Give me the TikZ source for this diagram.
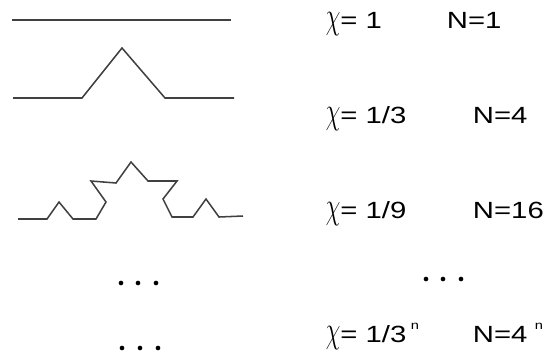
\documentclass[tikz,border=0pt]{standalone}
\usepackage{fontspec}
\setmainfont{Liberation Sans}
\newcommand{\supn}[1]{\hspace{#1}\raisebox{11pt}{\fontsize{10}{10}\selectfont n}}
\newcommand{\chiv}{\scalebox{0.78}[1.54]{$\chi$}}
\begin{document}
\begin{tikzpicture}[x=0.03cm, y=-0.03cm, line width=1.3pt, line join=miter]
  \tikzset{lbl/.style={anchor=base west, inner sep=0pt, font=\fontsize{20}{24}\selectfont, xscale=1.25, transform shape},
    curve/.style={draw=black!75},
    dot/.style={fill=black}}
  \useasboundingbox (0,0) rectangle (545,356);
  % step 0
  \draw[curve] (12,20) -- (231,20);
  % step 1
  \draw[curve] (13,98) -- (82,98) -- (122,48) -- (165,98) -- (234,98);
  % step 2
  \draw[curve] (18,219) -- (47,219) -- (59,202) -- (73,219) -- (96,219) -- (106,202)
    -- (91,181) -- (116,183) -- (131,162) -- (148,181) -- (177,181) -- (163,199)
    -- (172,217) -- (193,217) -- (206,199) -- (219,217) -- (243,216);
  % dots
  \foreach \x in {121,138,156} \fill[dot] (\x,283) circle[radius=0.07cm];
  \foreach \x in {122,140,158} \fill[dot] (\x,348) circle[radius=0.07cm];
  \foreach \x in {426,443,461} \fill[dot] (\x,279) circle[radius=0.07cm];
  % labels
  \node[lbl] (chi0) at (325,28) {\chiv= 1};
  \node[lbl] (n0) at (446,28) {N=1};
  \node[lbl] (chi1) at (325,123) {\chiv= 1/3};
  \node[lbl] (n1) at (472,123) {N=4};
  \node[lbl] (chi2) at (325,218) {\chiv= 1/9};
  \node[lbl] (n2) at (472,218) {N=16};
  \node[lbl] (chin) at (325,342) {\chiv= 1/3\supn{3pt}};
  \node[lbl] (nn) at (472,342) {N=4\supn{5pt}};
\end{tikzpicture}
\end{document}
